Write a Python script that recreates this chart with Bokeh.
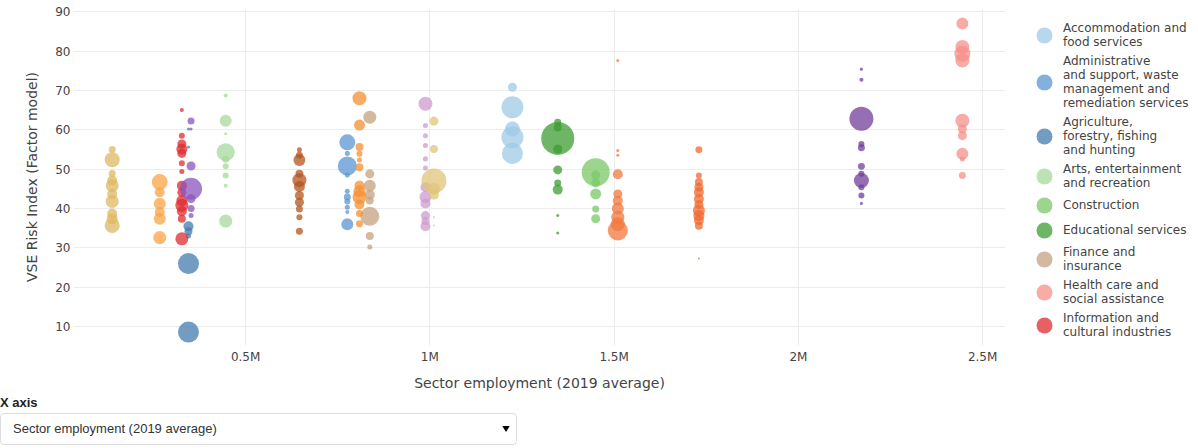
import math
from bokeh.plotting import figure
from bokeh.models import (ColumnDataSource, Range1d, FixedTicker, Legend, LegendItem,
                          Select, InlineStyleSheet)
from bokeh.layouts import column, row
from bokeh.embed import file_html
from bokeh.resources import INLINE

# ---------------- data ----------------
sectors = [
    "Accommodation and food services",
    "Administrative and support, waste management and remediation services",
    "Agriculture, forestry, fishing and hunting",
    "Arts, entertainment and recreation",
    "Construction",
    "Educational services",
    "Finance and insurance",
    "Health care and social assistance",
    "Information and cultural industries",
    "Manufacturing",
    "Mining, quarrying, and oil and gas extraction",
    "Other services (except public administration)",
    "Professional, scientific and technical services",
    "Public administration",
    "Real estate and rental and leasing",
    "Retail trade",
    "Transportation and warehousing",
    "Utilities",
    "Wholesale trade",
]

legend_labels = [
    "Accommodation and\nfood services",
    "Administrative\nand support, waste\nmanagement and\nremediation services",
    "Agriculture,\nforestry, fishing\nand hunting",
    "Arts, entertainment\nand recreation",
    "Construction",
    "Educational services",
    "Finance and\ninsurance",
    "Health care and\nsocial assistance",
    "Information and\ncultural industries",
]

# sector employment, 2019 average (persons)
sector_employment = [
    1224000, 776000, 345000, 446000, 1450000, 1347000, 837000, 2445000, 327000,
    1730000, 267000, 809000, 1510000, 988000, 352000, 2171000, 1011000, 138000, 646000,
]

# VSE risk index of each sub-industry
risk_index = [
    [70.8, 65.7, 60.2, 58.1, 54.0],
    [56.8, 54.0, 50.8, 48.5, 44.4, 42.9, 41.8, 40.3, 39.1, 36.0],
    [60.2, 55.6, 35.5, 34.2, 33.0, 26.0, 8.6],
    [68.7, 62.3, 59.0, 54.3, 52.5, 50.7, 48.4, 45.8, 36.8],
    [49.2, 48.5, 46.5, 43.7, 39.9, 37.4],
    [61.9, 60.6, 57.8, 55.1, 49.8, 46.5, 44.8, 38.2, 33.8],
    [63.2, 48.8, 45.8, 43.5, 42.0, 38.0, 33.0, 30.2],
    [87.0, 81.0, 79.3, 77.6, 62.3, 60.2, 58.5, 53.9, 52.6, 48.4],
    [65.0, 58.5, 56.4, 55.1, 54.0, 51.5, 49.4, 45.8, 44.1, 42.0, 40.8, 39.3, 37.4, 32.3],
    [54.9, 48.4, 46.7, 45.4, 44.1, 42.4, 41.0, 39.5, 38.2, 37.0, 35.6, 27.3],
    [46.7, 44.1, 41.2, 39.1, 37.4, 32.6],
    [68.0, 61.2, 55.6, 53.9, 52.3, 50.5, 45.8, 44.4, 42.9, 41.0, 38.7, 36.1],
    [77.6, 54.7, 53.5, 48.7, 43.7, 42.0, 40.0, 37.8, 36.0, 34.4],
    [66.6, 61.1, 58.5, 56.0, 52.6, 50.3, 45.4, 42.9, 41.3, 38.2, 36.8, 35.5],
    [62.2, 60.2, 50.8, 45.0, 42.5, 40.0, 38.2],
    [75.4, 72.7, 62.8, 56.4, 55.4, 50.7, 48.8, 47.1, 45.4, 43.3, 41.3],
    [62.2, 55.1, 47.0, 45.0, 43.5, 37.8, 35.7],
    [55.0, 52.4, 48.9, 47.1, 45.8, 43.7, 41.8, 38.7, 37.4, 35.7],
    [54.9, 53.5, 52.3, 48.8, 47.2, 45.6, 43.3, 41.6, 39.9, 37.8, 34.2],
]

# sub-industry employment (thousands) -> bubble area
sub_employment = [
    [45, 266, 124, 266, 243],
    [141, 14, 199, 14, 14, 27, 20, 14, 9, 79],
    [5, 5, 55, 35, 14, 243, 243],
    [9, 79, 5, 178, 27, 20, 20, 9, 93],
    [431, 45, 45, 67, 27, 45],
    [27, 35, 599, 45, 45, 27, 55, 5, 5],
    [93, 45, 79, 55, 35, 199, 35, 14],
    [79, 108, 141, 108, 108, 45, 45, 79, 14, 27],
    [9, 20, 45, 67, 45, 20, 14, 55, 45, 67, 93, 55, 35, 93],
    [27, 20, 35, 45, 55, 55, 45, 79, 67, 55, 35, 2],
    [141, 55, 79, 55, 79, 93],
    [108, 67, 35, 20, 14, 35, 55, 79, 108, 55, 27, 27],
    [5, 5, 5, 55, 45, 55, 79, 93, 108, 220],
    [108, 14, 14, 14, 14, 14, 55, 79, 55, 45, 35, 55],
    [27, 5, 45, 266, 45, 27, 14],
    [5, 9, 317, 20, 27, 27, 20, 124, 20, 20, 5],
    [45, 35, 344, 79, 55, 2, 2],
    [27, 124, 27, 55, 93, 55, 93, 55, 67, 124],
    [14, 27, 79, 35, 108, 67, 45, 45, 27, 20, 27],
]

colors = [
    "#9dcae6", "#5995d2", "#437bad", "#a7d899", "#7bc867", "#3d9c33", "#c4a280",
    "#f68f8a", "#df2b2f", "#f06a30", "#faa446", "#f78f31", "#f1783d", "#cf9bcf",
    "#8954be", "#723d9b", "#dfc578", "#dfb862", "#b3541f",
]

x_ticks = [500000, 1000000, 1500000, 2000000, 2500000]
x_tick_labels = ["0.5M", "1M", "1.5M", "2M", "2.5M"]
y_ticks = [10, 20, 30, 40, 50, 60, 70, 80, 90]

x_options = [
    "Sector employment (2019 average)",
    "Sector GDP (2019)",
    "Employment change (Feb-Apr 2020)",
]

# ---------------- main figure ----------------
FONT = "DejaVu Sans"
TXT = "#444444"
ALPHA = 0.75
H = 398

p = figure(width=1005, height=H,
           x_range=Range1d(33000, 2562000), y_range=Range1d(5.2, 90.8),
           output_backend="svg", toolbar_location=None,
           min_border_left=73, min_border_right=0, min_border_top=8,
           min_border_bottom=53)
p.outline_line_color = None
p.background_fill_color = "white"

for ax in (p.xaxis, p.yaxis):
    ax.axis_line_color = None
    ax.major_tick_line_color = None
    ax.minor_tick_line_color = None
    ax.major_tick_out = 0
    ax.major_tick_in = 0
    ax.minor_tick_out = 0
    ax.major_label_text_font = FONT
    ax.major_label_text_font_size = "12px"
    ax.major_label_text_color = TXT
    ax.axis_label_text_font = FONT
    ax.axis_label_text_font_size = "14px"
    ax.axis_label_text_font_style = "normal"
    ax.axis_label_text_color = TXT

p.xaxis.ticker = FixedTicker(ticks=x_ticks)
p.xaxis.major_label_overrides = {t: l for t, l in zip(x_ticks, x_tick_labels)}
p.xaxis.axis_label = "Sector employment (2019 average)"
p.xaxis.major_label_standoff = 4
p.xaxis.axis_label_standoff = 8

p.yaxis.ticker = FixedTicker(ticks=y_ticks)
p.yaxis.axis_label = "VSE Risk Index (Factor model)"
p.yaxis.major_label_standoff = 3
p.yaxis.axis_label_standoff = 12

p.xgrid.grid_line_color = "#ececec"
p.ygrid.grid_line_color = "#ececec"

for i, name in enumerate(sectors):
    ys = risk_index[i]
    emp = sub_employment[i]
    src = ColumnDataSource(dict(
        x=[sector_employment[i]] * len(ys),
        y=ys,
        emp=emp,
        size=[1.35 * math.sqrt(e) for e in emp],
    ))
    p.ellipse(x="x", y="y", width="size", height="size",
              width_units="screen", height_units="screen",
              source=src, fill_color=colors[i], fill_alpha=ALPHA,
              line_color=None)

# ---------------- legend panel ----------------
lf = figure(width=1198 - 1005, height=H, x_range=Range1d(0, 1), y_range=Range1d(0, 1),
            x_axis_type=None, y_axis_type=None, output_backend="svg",
            toolbar_location=None, min_border=0)
lf.outline_line_color = None
lf.grid.visible = False

items = []
for i, lab in enumerate(legend_labels):
    # legend swatch renderer (point kept outside the visible range)
    r = lf.ellipse(x=[-10], y=[-10], width=16, height=16,
                   width_units="screen", height_units="screen",
                   fill_color=colors[i], fill_alpha=ALPHA, line_color=None)
    items.append(LegendItem(label=lab, renderers=[r]))

legend = Legend(items=items, location=(29, 6),
                glyph_width=20, glyph_height=20, label_height=14,
                label_standoff=9, spacing=5, padding=4, margin=0,
                border_line_color=None, background_fill_alpha=0,
                label_text_font=FONT, label_text_font_size="12px",
                label_text_color=TXT)
lf.add_layout(legend)

css = """
label { font-weight: 700 !important; font-size: 13px !important; color: #222 !important;
        font-family: "Liberation Sans", Arial, sans-serif !important; }
.bk-input { font-size: 13px !important; height: 32px !important; color: #333 !important;
        font-family: "Liberation Sans", Arial, sans-serif !important;
        border: 1px solid #dddddd !important; border-radius: 4px !important;
        padding: 0 12px !important; background-color: #ffffff !important; }
"""
sel = Select(title="X axis", value=x_options[0], options=x_options, width=517,
             margin=(-4, 0, 0, 0), stylesheets=[InlineStyleSheet(css=css)])

layout = column(row(p, lf), sel)
open("out.html", "w").write(file_html(layout, INLINE))
